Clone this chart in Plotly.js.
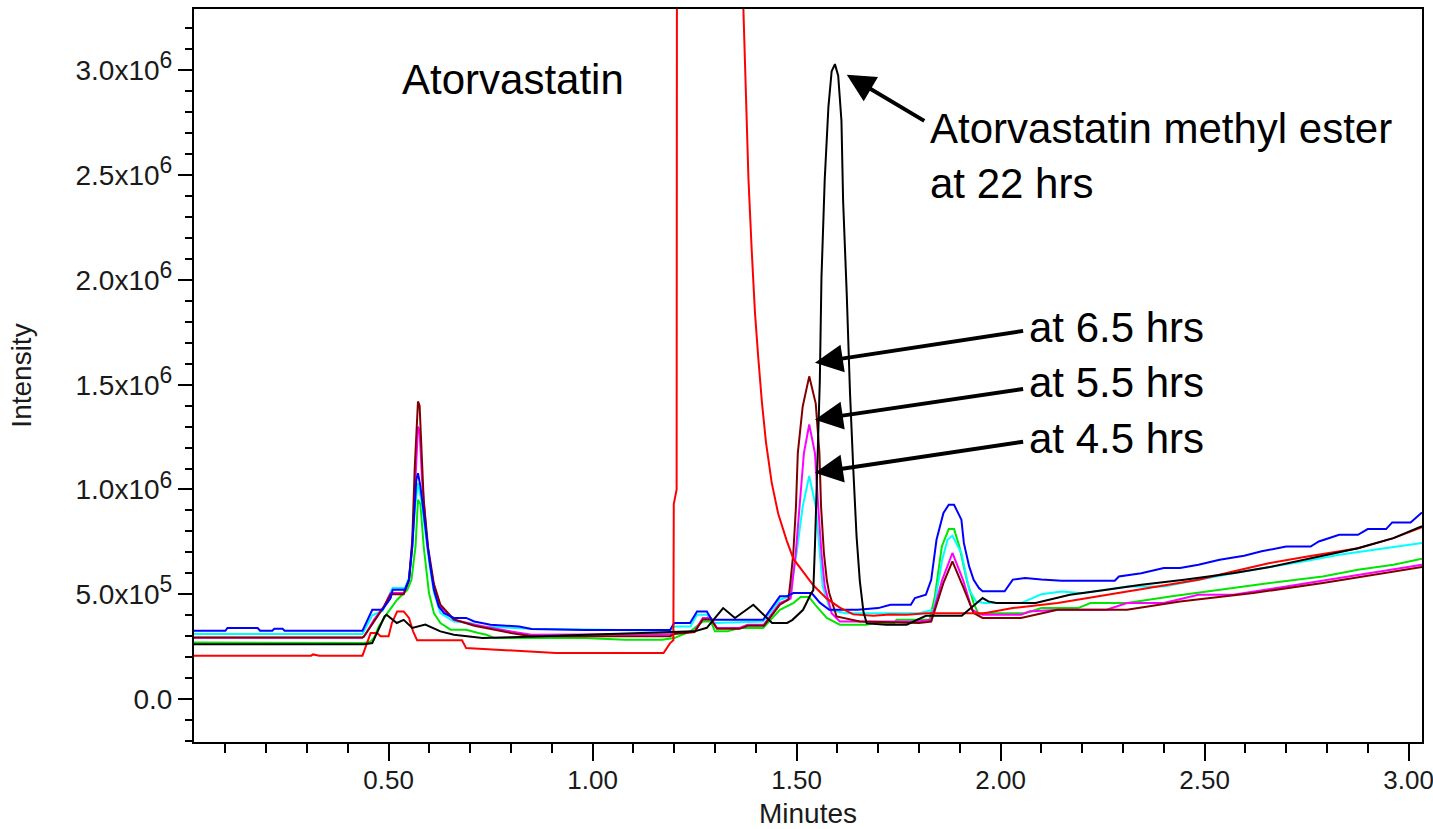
<!DOCTYPE html>
<html>
<head>
<meta charset="utf-8">
<script src="https://cdn.plot.ly/plotly-3.0.1.min.js"></script>
<style>html,body{margin:0;padding:0;background:#fff;}#chart{width:1433px;height:829px;}</style>
</head>
<body>
<div id="chart"></div>
<script>
// ---- Data (time in minutes, intensity in counts) ----
const redT = [0.023,0.31,0.315,0.33,0.436,0.456,0.472,0.48,0.50,0.508,0.521,0.537,0.55,0.56,0.57,0.68,0.69,0.757,0.91,1.174,1.19,1.198,1.199,1.206,1.208,1.29,1.36,1.368,1.376,1.382,1.39,1.398,1.406,1.415,1.425,1.439,1.455,1.476,1.492,1.525,1.541,1.574,1.606,1.639,1.688,1.729,1.77,1.82,1.96,2.03,2.14,2.24,2.36,2.485,2.57,2.66,2.745,2.876,2.963,3.033];
const redI = [2.07e5,2.07e5,2.13e5,2.07e5,2.07e5,3.15e5,3.15e5,3.0e5,3.0e5,3.63e5,4.18e5,4.18e5,3.87e5,3.23e5,2.8e5,2.8e5,2.43e5,2.35e5,2.2e5,2.2e5,2.67e5,2.8e5,9.3e5,1.0e6,8.0e6,1.2e7,8.0e6,3.4e6,2.91e6,2.484e6,2.143e6,1.844e6,1.631e6,1.417e6,1.225e6,1.033e6,8.84e5,7.55e5,6.7e5,5.85e5,5.43e5,4.79e5,4.36e5,4.04e5,3.97e5,4.04e5,4.02e5,4.1e5,4.1e5,4.34e5,4.58e5,4.9e5,5.3e5,5.69e5,6.09e5,6.49e5,6.78e5,7.2e5,7.68e5,8.2e5];

const blackT = [0.023,0.44,0.46,0.49,0.495,0.52,0.537,0.558,0.59,0.627,0.66,0.73,0.80,1.09,1.25,1.28,1.304,1.32,1.349,1.394,1.44,1.477,1.49,1.516,1.534,1.541,1.545,1.549,1.557,1.561,1.569,1.578,1.586,1.594,1.602,1.61,1.614,1.623,1.631,1.639,1.647,1.655,1.664,1.672,1.72,1.77,1.817,1.905,1.956,1.97,1.99,2.086,2.17,2.26,2.345,2.45,2.573,2.66,2.745,2.876,2.963,3.033];
const blackI = [2.62e5,2.62e5,2.67e5,3.94e5,4.02e5,3.63e5,3.78e5,3.39e5,3.55e5,3.23e5,3.07e5,2.91e5,2.95e5,3.15e5,3.23e5,3.4e5,3.94e5,4.34e5,3.87e5,4.5e5,3.63e5,3.63e5,3.78e5,4.26e5,4.98e5,5.2e5,7.3e5,1.033e6,1.52e6,2.01e6,2.48e6,2.825e6,2.996e6,3.03e6,2.975e6,2.76e6,2.38e6,1.93e6,1.46e6,1.097e6,7.77e5,5.64e5,4.15e5,3.61e5,3.55e5,3.55e5,3.97e5,3.97e5,4.82e5,4.66e5,4.58e5,4.58e5,4.98e5,5.22e5,5.45e5,5.69e5,6.01e5,6.3e5,6.65e5,7.2e5,7.68e5,8.25e5];

const blueT = [0.023,0.10,0.105,0.179,0.185,0.215,0.22,0.24,0.245,0.436,0.46,0.485,0.505,0.51,0.54,0.55,0.558,0.564,0.568,0.572,0.578,0.591,0.601,0.611,0.623,0.636,0.66,0.69,0.71,0.75,0.82,0.85,0.98,1.19,1.20,1.239,1.256,1.28,1.292,1.418,1.459,1.476,1.492,1.537,1.557,1.58,1.65,1.70,1.73,1.78,1.79,1.817,1.83,1.843,1.86,1.873,1.886,1.904,1.91,1.923,1.934,1.947,1.956,2.01,2.03,2.06,2.10,2.15,2.28,2.29,2.345,2.40,2.44,2.485,2.537,2.597,2.64,2.70,2.76,2.78,2.83,2.876,2.90,2.945,2.96,3.005,3.033];
const blueI = [3.26e5,3.26e5,3.39e5,3.39e5,3.26e5,3.26e5,3.36e5,3.36e5,3.26e5,3.26e5,4.26e5,4.26e5,4.82e5,5.22e5,5.22e5,5.69e5,7.28e5,9.19e5,1.047e6,1.078e6,1.015e6,8.08e5,6.49e5,5.22e5,4.42e5,4.1e5,3.87e5,3.87e5,3.7e5,3.55e5,3.46e5,3.34e5,3.3e5,3.3e5,3.63e5,3.63e5,4.18e5,4.18e5,3.78e5,3.78e5,4.9e5,4.9e5,5.06e5,5.06e5,4.6e5,4.26e5,4.26e5,4.34e5,4.5e5,4.5e5,4.82e5,4.98e5,5.69e5,7.6e5,8.88e5,9.27e5,9.27e5,8.56e5,7.45e5,6.33e5,5.69e5,5.3e5,5.14e5,5.14e5,5.7e5,5.78e5,5.7e5,5.65e5,5.65e5,5.85e5,6.0e5,6.25e5,6.25e5,6.41e5,6.65e5,6.84e5,7.05e5,7.28e5,7.28e5,7.52e5,7.84e5,7.84e5,8.11e5,8.11e5,8.43e5,8.43e5,8.9e5];

const cyanT = [0.023,0.436,0.46,0.485,0.50,0.51,0.54,0.55,0.558,0.565,0.572,0.58,0.591,0.601,0.611,0.627,0.66,0.70,0.73,0.85,1.19,1.20,1.24,1.256,1.28,1.292,1.30,1.418,1.459,1.483,1.487,1.50,1.515,1.531,1.547,1.556,1.564,1.582,1.62,1.80,1.836,1.857,1.87,1.882,1.904,1.923,1.94,1.96,2.05,2.10,2.15,2.20,2.31,2.40,2.485,2.57,2.66,2.745,2.83,2.915,3.033];
const cyanI = [3.1e5,3.1e5,4.0e5,4.2e5,4.9e5,5.3e5,5.3e5,5.8e5,7.3e5,9.2e5,1.03e6,9.5e5,7.8e5,6.3e5,5.1e5,4.1e5,3.7e5,3.63e5,3.46e5,3.35e5,3.26e5,3.46e5,3.46e5,4.02e5,4.02e5,3.7e5,3.63e5,3.7e5,4.74e5,4.9e5,5.37e5,6.97e5,9.19e5,1.065e6,9.19e5,6.97e5,5.37e5,4.26e5,4.1e5,4.1e5,4.26e5,6.65e5,7.6e5,7.79e5,6.97e5,5.22e5,4.66e5,4.58e5,4.58e5,5.0e5,5.13e5,5.05e5,5.37e5,5.37e5,5.69e5,6.0e5,6.3e5,6.57e5,6.89e5,7.13e5,7.45e5];

const magentaT = [0.023,0.436,0.44,0.464,0.4885,0.505,0.537,0.55,0.558,0.566,0.572,0.576,0.582,0.595,0.611,0.627,0.66,0.71,0.75,0.80,0.85,1.19,1.20,1.25,1.27,1.29,1.305,1.36,1.38,1.42,1.459,1.4855,1.498,1.508,1.518,1.531,1.545,1.553,1.561,1.569,1.586,1.606,1.80,1.83,1.857,1.882,1.908,1.93,1.956,2.05,2.07,2.14,2.26,2.31,2.40,2.485,2.57,2.70,2.83,2.963,3.033];
const magentaI = [2.92e5,2.92e5,2.99e5,3.78e5,4.42e5,5.06e5,5.06e5,5.69e5,7.28e5,1.047e6,1.30e6,1.28e6,1.047e6,7.28e5,5.37e5,4.42e5,3.78e5,3.55e5,3.4e5,3.23e5,3.07e5,3.1e5,3.15e5,3.23e5,3.87e5,3.87e5,3.39e5,3.39e5,3.55e5,3.55e5,4.58e5,4.8e5,6.97e5,9.19e5,1.174e6,1.31e6,1.174e6,9.19e5,6.97e5,5.37e5,4.1e5,3.7e5,3.7e5,3.78e5,5.69e5,6.97e5,5.69e5,4.26e5,4.02e5,4.02e5,4.18e5,4.26e5,4.26e5,4.58e5,4.58e5,4.98e5,4.98e5,5.37e5,5.78e5,6.17e5,6.41e5];

const maroonT = [0.023,0.436,0.44,0.464,0.4885,0.505,0.537,0.55,0.558,0.564,0.569,0.572,0.576,0.58,0.586,0.597,0.611,0.627,0.66,0.71,0.80,0.85,1.19,1.20,1.25,1.27,1.29,1.305,1.36,1.38,1.42,1.459,1.48,1.4855,1.492,1.4985,1.503,1.515,1.531,1.547,1.556,1.56,1.567,1.574,1.58,1.598,1.655,1.80,1.83,1.86,1.882,1.908,1.934,1.956,2.05,2.14,2.31,2.44,2.62,2.79,2.92,3.033];
const maroonI = [2.94e5,2.94e5,2.99e5,3.7e5,4.4e5,5.0e5,5.0e5,5.69e5,7.6e5,1.1e6,1.35e6,1.42e6,1.40e6,1.2e6,9.5e5,7.2e5,5.5e5,4.5e5,3.8e5,3.5e5,3.15e5,3.0e5,3.0e5,3.1e5,3.2e5,3.8e5,3.8e5,3.35e5,3.35e5,3.5e5,3.5e5,4.5e5,4.74e5,5.69e5,6.97e5,9.19e5,1.174e6,1.396e6,1.54e6,1.41e6,1.174e6,9.19e5,6.97e5,5.69e5,5.06e5,3.94e5,3.7e5,3.63e5,3.7e5,5.54e5,6.57e5,5.37e5,4.1e5,3.87e5,3.87e5,4.26e5,4.26e5,4.66e5,5.06e5,5.54e5,5.93e5,6.3e5];

const greenT = [0.023,0.44,0.456,0.464,0.476,0.497,0.521,0.546,0.556,0.566,0.572,0.578,0.586,0.599,0.611,0.627,0.652,0.69,0.72,0.74,0.76,0.98,1.08,1.17,1.20,1.24,1.27,1.29,1.30,1.33,1.36,1.418,1.459,1.492,1.51,1.53,1.549,1.574,1.606,1.67,1.69,1.74,1.745,1.80,1.826,1.839,1.856,1.873,1.886,1.899,1.917,1.934,1.947,1.96,2.06,2.10,2.19,2.22,2.31,2.42,2.57,2.66,2.79,2.876,2.963,3.033];
const greenI = [2.7e5,2.67e5,2.75e5,2.91e5,3.46e5,4.1e5,4.74e5,5.22e5,5.69e5,7.28e5,9.51e5,9.3e5,7.28e5,5.06e5,4.1e5,3.63e5,3.31e5,3.31e5,3.15e5,3.07e5,2.91e5,2.91e5,2.83e5,2.83e5,2.91e5,3.23e5,3.7e5,3.7e5,3.23e5,3.23e5,3.39e5,3.39e5,4.26e5,4.58e5,4.87e5,4.87e5,4.42e5,3.87e5,3.55e5,3.55e5,3.63e5,3.63e5,3.78e5,3.78e5,3.78e5,4.9e5,7.28e5,8.11e5,8.11e5,7.28e5,5.69e5,4.58e5,4.02e5,4.1e5,4.1e5,4.34e5,4.34e5,4.58e5,4.58e5,4.9e5,5.3e5,5.54e5,5.85e5,6.17e5,6.41e5,6.7e5];

// Tick labels
const xTickVals = [0.5, 1.0, 1.5, 2.0, 2.5, 3.0];
const xTickText = ['0.50', '1.00', '1.50', '2.00', '2.50', '3.00'];
const yTickVals = [0, 5e5, 1e6, 1.5e6, 2e6, 2.5e6, 3e6];
const yTickMantissa = ['0.0', '5.0', '1.0', '1.5', '2.0', '2.5', '3.0'];
const yTickExponent = ['', '5', '6', '6', '6', '6', '6'];

// Annotation texts and anchor points (minutes, intensity)
const labelTexts = ['Atorvastatin', 'Atorvastatin methyl ester<br>at 22 hrs', 'at 6.5 hrs', 'at 5.5 hrs', 'at 4.5 hrs'];
const labelX = [0.529, 1.8216, 2.064, 2.064, 2.064];
const labelY = [2.956e6, 2.59e6, 1.772e6, 1.509e6, 1.242e6];
const arrowTipX = [1.623, 1.545, 1.545, 1.545];
const arrowTipY = [2.979e6, 1.605e6, 1.333e6, 1.080e6];
const arrowTailX = [1.8167, 2.059, 2.059, 2.059];
const arrowTailY = [2.755e6, 1.758e6, 1.481e6, 1.229e6];

const FONT = 'Liberation Sans, Arial, Helvetica, sans-serif';

const yTickText = yTickMantissa.map((m, i) => yTickExponent[i]
  ? m + 'x10<sup><span style="font-size:23px">' + yTickExponent[i] + '</span></sup>'
  : m);

function tr(x, y, color) {
  return {x: x, y: y, type: 'scatter', mode: 'lines', line: {color: color, width: 2}, hoverinfo: 'skip', showlegend: false};
}

const traces = [
  tr(greenT, greenI, '#00e600'),
  tr(cyanT, cyanI, '#00ffff'),
  tr(magentaT, magentaI, '#ff00ff'),
  tr(maroonT, maroonI, '#800000'),
  tr(blueT, blueI, '#0000ff'),
  tr(redT, redI, '#ff0000'),
  tr(blackT, blackI, '#000000')
];

const annotations = [];
labelTexts.forEach((t, i) => {
  annotations.push({x: labelX[i], y: labelY[i], xref: 'x', yref: 'y', text: t, showarrow: false,
    xanchor: 'left', yanchor: 'middle', align: 'left', font: {family: FONT, size: 42, color: '#000'}});
});
arrowTipX.forEach((ax, i) => {
  annotations.push({x: arrowTipX[i], y: arrowTipY[i], xref: 'x', yref: 'y', ax: arrowTailX[i], ay: arrowTailY[i],
    axref: 'x', ayref: 'y', text: '', showarrow: true, arrowhead: 2, arrowsize: 1.4, arrowwidth: 4, arrowcolor: '#000', standoff: 0});
});

const layout = {
  width: 1433, height: 829,
  margin: {l: 194, r: 11, t: 9, b: 87},
  paper_bgcolor: '#fff', plot_bgcolor: '#fff',
  font: {family: FONT, color: '#1a1a1a'},
  showlegend: false,
  xaxis: {
    range: [0.023, 3.033], tickmode: 'array', tickvals: xTickVals, ticktext: xTickText,
    ticks: 'outside', ticklen: 17, tickwidth: 2, tickcolor: '#000', ticklabeloverflow: 'allow', ticklabelstandoff: -3,
    minor: {ticks: 'outside', tickmode: 'linear', tick0: 0, dtick: 0.1, ticklen: 9, tickwidth: 2, tickcolor: '#000', showgrid: false},
    showline: true, linewidth: 2, linecolor: '#000', mirror: true, showgrid: false, zeroline: false,
    tickfont: {size: 26, color: '#1a1a1a'},
    title: {text: 'Minutes', font: {size: 28, color: '#1a1a1a'}, standoff: 10}
  },
  yaxis: {
    range: [-2.05e5, 3.293e6], tickmode: 'array', tickvals: yTickVals, ticktext: yTickText,
    ticks: 'outside', ticklen: 14, tickwidth: 2, tickcolor: '#000',
    minor: {ticks: 'outside', tickmode: 'linear', tick0: 0, dtick: 1e5, ticklen: 7, tickwidth: 2, tickcolor: '#000', showgrid: false},
    showline: true, linewidth: 2, linecolor: '#000', mirror: true, showgrid: false, zeroline: false,
    tickfont: {size: 28, color: '#1a1a1a'},
    title: {text: 'Intensity', font: {size: 28, color: '#1a1a1a'}, standoff: 36}
  },
  annotations: annotations
};

Plotly.newPlot('chart', traces, layout, {staticPlot: true, displayModeBar: false});
</script>
</body>
</html>
